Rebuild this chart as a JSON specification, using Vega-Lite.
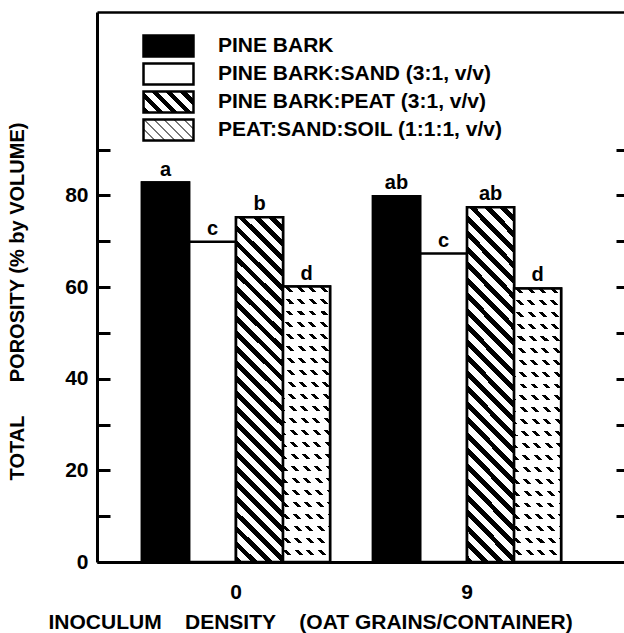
{
  "$schema": "https://vega.github.io/schema/vega-lite/v6.json",
  "width": 527,
  "height": 550,
  "autosize": {"type": "none"},
  "padding": {"left": 97, "top": 12, "right": 0, "bottom": 71},
  "background": "white",
  "config": {
    "view": {"stroke": null},
    "font": "Liberation Sans",
    "axis": {"grid": false, "labelFont": "Liberation Sans", "titleFont": "Liberation Sans", "labelColor": "black", "titleColor": "black", "domainColor": "black", "tickColor": "black"}
  },
  "data": {
    "values": [
      {"density": "0", "mix": "PINE BARK", "value": 82.8, "letter": "a"},
      {"density": "0", "mix": "PINE BARK:SAND (3:1, v/v)", "value": 69.9, "letter": "c"},
      {"density": "0", "mix": "PINE BARK:PEAT (3:1, v/v)", "value": 75.2, "letter": "b"},
      {"density": "0", "mix": "PEAT:SAND:SOIL (1:1:1, v/v)", "value": 60.1, "letter": "d"},
      {"density": "9", "mix": "PINE BARK", "value": 79.8, "letter": "ab"},
      {"density": "9", "mix": "PINE BARK:SAND (3:1, v/v)", "value": 67.3, "letter": "c"},
      {"density": "9", "mix": "PINE BARK:PEAT (3:1, v/v)", "value": 77.4, "letter": "ab"},
      {"density": "9", "mix": "PEAT:SAND:SOIL (1:1:1, v/v)", "value": 59.7, "letter": "d"}
    ]
  },
  "resolve": {"axis": {"x": "independent", "y": "independent"}},
  "layer": [
    {
      "mark": {"type": "bar", "strokeWidth": 2.5},
      "encoding": {
        "x": {"field": "density", "type": "nominal", "sort": ["0", "9"],
          "scale": {"paddingInner": 0.186, "paddingOuter": 0.2335, "align": 0.417},
          "axis": {"orient": "bottom", "labelAngle": 0, "ticks": false, "tickSize": 0, "domainWidth": 3, "labelFontSize": 21, "labelFontWeight": "bold", "labelPadding": 19, "labelDx": -8,
            "title": "INOCULUM\u00a0\u00a0\u00a0\u00a0DENSITY\u00a0\u00a0\u00a0\u00a0(OAT GRAINS/CONTAINER)", "titleFontSize": 21, "titleFontWeight": "bold", "titleAnchor": "start", "titleAlign": "left", "titleX": -49, "titlePadding": 9}},
        "xOffset": {"field": "mix", "type": "nominal", "scale": {"domain": ["PINE BARK", "PINE BARK:SAND (3:1, v/v)", "PINE BARK:PEAT (3:1, v/v)", "PEAT:SAND:SOIL (1:1:1, v/v)"], "paddingInner": 0, "paddingOuter": 0}},
        "y": {"field": "value", "type": "quantitative", "scale": {"domain": [0, 120], "nice": false},
          "axis": {"orient": "left", "values": [0, 10, 20, 30, 40, 50, 60, 70, 80, 90], "labelExpr": "datum.value % 20 == 0 ? datum.label : ''", "labelOverlap": false, "tickSize": -13, "tickWidth": 3, "domainWidth": 3, "labelFontSize": 21, "labelFontWeight": "bold", "labelPadding": 22,
            "title": "TOTAL\u00a0\u00a0\u00a0\u00a0\u00a0\u00a0POROSITY (% by VOLUME)", "titleFontSize": 20, "titleFontWeight": "bold", "titleAnchor": "middle", "titleY": 289, "titlePadding": 37}},
        "fill": {"field": "density", "type": "nominal", "legend": null, "scale": {"domain": ["0", "9"], "range": ["white", "white"]}},
        "stroke": {"field": "mix", "type": "nominal",
          "scale": {"domain": ["PINE BARK", "PINE BARK:SAND (3:1, v/v)", "PINE BARK:PEAT (3:1, v/v)", "PEAT:SAND:SOIL (1:1:1, v/v)"], "range": ["black", "black", "black", "black"]},
          "legend": {
            "title": null, "orient": "none", "legendX": 59.5, "legendY": 22, "padding": 0, "rowPadding": -9,
            "symbolType": "M-2.38,-1H2.38V1H-2.38Z", "symbolSize": 441, "symbolStrokeWidth": 2.5, "symbolOpacity": 1,
            "labelFont": "Liberation Sans", "labelFontSize": 21, "labelFontWeight": "bold", "labelColor": "black", "labelOffset": 37.5, "labelLimit": 0,
            "symbolFillColor": {"expr": "datum.value === 'PINE BARK' ? 'black' : datum.value === 'PINE BARK:SAND (3:1, v/v)' ? 'white' : datum.value === 'PINE BARK:PEAT (3:1, v/v)' ? {gradient: 'linear', x1: 0, y1: 1, x2: 1.207, y2: 0.493, stops: [{offset: 0, color: '#000'}, {offset: 0.09, color: '#000'}, {offset: 0.09, color: '#fff'}, {offset: 0.2, color: '#fff'}, {offset: 0.2, color: '#000'}, {offset: 0.29, color: '#000'}, {offset: 0.29, color: '#fff'}, {offset: 0.4, color: '#fff'}, {offset: 0.4, color: '#000'}, {offset: 0.49, color: '#000'}, {offset: 0.49, color: '#fff'}, {offset: 0.6, color: '#fff'}, {offset: 0.6, color: '#000'}, {offset: 0.69, color: '#000'}, {offset: 0.69, color: '#fff'}, {offset: 0.8, color: '#fff'}, {offset: 0.8, color: '#000'}, {offset: 0.89, color: '#000'}, {offset: 0.89, color: '#fff'}, {offset: 1, color: '#fff'}]} : {gradient: 'linear', x1: 0, y1: 1, x2: 1.207, y2: 0.493, stops: [{offset: 0, color: '#777'}, {offset: 0.03, color: '#777'}, {offset: 0.03, color: '#fff'}, {offset: 0.1429, color: '#fff'}, {offset: 0.1429, color: '#777'}, {offset: 0.1729, color: '#777'}, {offset: 0.1729, color: '#fff'}, {offset: 0.2857, color: '#fff'}, {offset: 0.2857, color: '#777'}, {offset: 0.3157, color: '#777'}, {offset: 0.3157, color: '#fff'}, {offset: 0.4286, color: '#fff'}, {offset: 0.4286, color: '#777'}, {offset: 0.4586, color: '#777'}, {offset: 0.4586, color: '#fff'}, {offset: 0.5714, color: '#fff'}, {offset: 0.5714, color: '#777'}, {offset: 0.6014, color: '#777'}, {offset: 0.6014, color: '#fff'}, {offset: 0.7143, color: '#fff'}, {offset: 0.7143, color: '#777'}, {offset: 0.7443, color: '#777'}, {offset: 0.7443, color: '#fff'}, {offset: 0.8571, color: '#fff'}, {offset: 0.8571, color: '#777'}, {offset: 0.8871, color: '#777'}, {offset: 0.8871, color: '#fff'}, {offset: 1, color: '#fff'}]}"}
          }}
      }
    },
    {
      "transform": [{"filter": "datum.mix === 'PINE BARK'"}],
      "mark": {"type": "bar", "fill": "black", "stroke": "black", "strokeWidth": 2.5},
      "encoding": {
        "x": {"field": "density", "type": "nominal", "sort": ["0", "9"], "axis": null},
        "xOffset": {"field": "mix", "type": "nominal"},
        "y": {"field": "value", "type": "quantitative", "axis": null}
      }
    },
    {
      "transform": [{"filter": "datum.mix === 'PINE BARK:PEAT (3:1, v/v)'"}],
      "mark": {"type": "bar", "stroke": "black", "strokeWidth": 2.5,
        "fill": {"gradient": "linear", "x1": 0, "y1": 1, "x2": 0.1505, "y2": -0.1147, "stops": [
          {"offset": 0, "color": "#000"}, {"offset": 0.0173, "color": "#000"}, {"offset": 0.0173, "color": "#fff"}, {"offset": 0.0385, "color": "#fff"},
          {"offset": 0.0385, "color": "#000"}, {"offset": 0.0558, "color": "#000"}, {"offset": 0.0558, "color": "#fff"}, {"offset": 0.0769, "color": "#fff"},
          {"offset": 0.0769, "color": "#000"}, {"offset": 0.0942, "color": "#000"}, {"offset": 0.0942, "color": "#fff"}, {"offset": 0.1154, "color": "#fff"},
          {"offset": 0.1154, "color": "#000"}, {"offset": 0.1327, "color": "#000"}, {"offset": 0.1327, "color": "#fff"}, {"offset": 0.1538, "color": "#fff"},
          {"offset": 0.1538, "color": "#000"}, {"offset": 0.1712, "color": "#000"}, {"offset": 0.1712, "color": "#fff"}, {"offset": 0.1923, "color": "#fff"},
          {"offset": 0.1923, "color": "#000"}, {"offset": 0.2096, "color": "#000"}, {"offset": 0.2096, "color": "#fff"}, {"offset": 0.2308, "color": "#fff"},
          {"offset": 0.2308, "color": "#000"}, {"offset": 0.2481, "color": "#000"}, {"offset": 0.2481, "color": "#fff"}, {"offset": 0.2692, "color": "#fff"},
          {"offset": 0.2692, "color": "#000"}, {"offset": 0.2865, "color": "#000"}, {"offset": 0.2865, "color": "#fff"}, {"offset": 0.3077, "color": "#fff"},
          {"offset": 0.3077, "color": "#000"}, {"offset": 0.325, "color": "#000"}, {"offset": 0.325, "color": "#fff"}, {"offset": 0.3462, "color": "#fff"},
          {"offset": 0.3462, "color": "#000"}, {"offset": 0.3635, "color": "#000"}, {"offset": 0.3635, "color": "#fff"}, {"offset": 0.3846, "color": "#fff"},
          {"offset": 0.3846, "color": "#000"}, {"offset": 0.4019, "color": "#000"}, {"offset": 0.4019, "color": "#fff"}, {"offset": 0.4231, "color": "#fff"},
          {"offset": 0.4231, "color": "#000"}, {"offset": 0.4404, "color": "#000"}, {"offset": 0.4404, "color": "#fff"}, {"offset": 0.4615, "color": "#fff"},
          {"offset": 0.4615, "color": "#000"}, {"offset": 0.4788, "color": "#000"}, {"offset": 0.4788, "color": "#fff"}, {"offset": 0.5, "color": "#fff"},
          {"offset": 0.5, "color": "#000"}, {"offset": 0.5173, "color": "#000"}, {"offset": 0.5173, "color": "#fff"}, {"offset": 0.5385, "color": "#fff"},
          {"offset": 0.5385, "color": "#000"}, {"offset": 0.5558, "color": "#000"}, {"offset": 0.5558, "color": "#fff"}, {"offset": 0.5769, "color": "#fff"},
          {"offset": 0.5769, "color": "#000"}, {"offset": 0.5942, "color": "#000"}, {"offset": 0.5942, "color": "#fff"}, {"offset": 0.6154, "color": "#fff"},
          {"offset": 0.6154, "color": "#000"}, {"offset": 0.6327, "color": "#000"}, {"offset": 0.6327, "color": "#fff"}, {"offset": 0.6538, "color": "#fff"},
          {"offset": 0.6538, "color": "#000"}, {"offset": 0.6712, "color": "#000"}, {"offset": 0.6712, "color": "#fff"}, {"offset": 0.6923, "color": "#fff"},
          {"offset": 0.6923, "color": "#000"}, {"offset": 0.7096, "color": "#000"}, {"offset": 0.7096, "color": "#fff"}, {"offset": 0.7308, "color": "#fff"},
          {"offset": 0.7308, "color": "#000"}, {"offset": 0.7481, "color": "#000"}, {"offset": 0.7481, "color": "#fff"}, {"offset": 0.7692, "color": "#fff"},
          {"offset": 0.7692, "color": "#000"}, {"offset": 0.7865, "color": "#000"}, {"offset": 0.7865, "color": "#fff"}, {"offset": 0.8077, "color": "#fff"},
          {"offset": 0.8077, "color": "#000"}, {"offset": 0.825, "color": "#000"}, {"offset": 0.825, "color": "#fff"}, {"offset": 0.8462, "color": "#fff"},
          {"offset": 0.8462, "color": "#000"}, {"offset": 0.8635, "color": "#000"}, {"offset": 0.8635, "color": "#fff"}, {"offset": 0.8846, "color": "#fff"},
          {"offset": 0.8846, "color": "#000"}, {"offset": 0.9019, "color": "#000"}, {"offset": 0.9019, "color": "#fff"}, {"offset": 0.9231, "color": "#fff"},
          {"offset": 0.9231, "color": "#000"}, {"offset": 0.9404, "color": "#000"}, {"offset": 0.9404, "color": "#fff"}, {"offset": 0.9615, "color": "#fff"},
          {"offset": 0.9615, "color": "#000"}, {"offset": 0.9788, "color": "#000"}, {"offset": 0.9788, "color": "#fff"}, {"offset": 1, "color": "#fff"}]}},
      "encoding": {
        "x": {"field": "density", "type": "nominal", "sort": ["0", "9"], "axis": null},
        "xOffset": {"field": "mix", "type": "nominal"},
        "y": {"field": "value", "type": "quantitative", "axis": null}
      }
    },
    {
      "transform": [{"filter": "datum.mix === 'PEAT:SAND:SOIL (1:1:1, v/v)'"}],
      "mark": {"type": "bar", "strokeWidth": 0,
        "fill": {"gradient": "linear", "x1": 0, "y1": 1, "x2": 0.1946, "y2": -0.1378, "stops": [
          {"offset": 0, "color": "#000"}, {"offset": 0.0125, "color": "#000"}, {"offset": 0.0125, "color": "#fff"}, {"offset": 0.0357, "color": "#fff"},
          {"offset": 0.0357, "color": "#000"}, {"offset": 0.0482, "color": "#000"}, {"offset": 0.0482, "color": "#fff"}, {"offset": 0.0714, "color": "#fff"},
          {"offset": 0.0714, "color": "#000"}, {"offset": 0.0839, "color": "#000"}, {"offset": 0.0839, "color": "#fff"}, {"offset": 0.1071, "color": "#fff"},
          {"offset": 0.1071, "color": "#000"}, {"offset": 0.1196, "color": "#000"}, {"offset": 0.1196, "color": "#fff"}, {"offset": 0.1429, "color": "#fff"},
          {"offset": 0.1429, "color": "#000"}, {"offset": 0.1554, "color": "#000"}, {"offset": 0.1554, "color": "#fff"}, {"offset": 0.1786, "color": "#fff"},
          {"offset": 0.1786, "color": "#000"}, {"offset": 0.1911, "color": "#000"}, {"offset": 0.1911, "color": "#fff"}, {"offset": 0.2143, "color": "#fff"},
          {"offset": 0.2143, "color": "#000"}, {"offset": 0.2268, "color": "#000"}, {"offset": 0.2268, "color": "#fff"}, {"offset": 0.25, "color": "#fff"},
          {"offset": 0.25, "color": "#000"}, {"offset": 0.2625, "color": "#000"}, {"offset": 0.2625, "color": "#fff"}, {"offset": 0.2857, "color": "#fff"},
          {"offset": 0.2857, "color": "#000"}, {"offset": 0.2982, "color": "#000"}, {"offset": 0.2982, "color": "#fff"}, {"offset": 0.3214, "color": "#fff"},
          {"offset": 0.3214, "color": "#000"}, {"offset": 0.3339, "color": "#000"}, {"offset": 0.3339, "color": "#fff"}, {"offset": 0.3571, "color": "#fff"},
          {"offset": 0.3571, "color": "#000"}, {"offset": 0.3696, "color": "#000"}, {"offset": 0.3696, "color": "#fff"}, {"offset": 0.3929, "color": "#fff"},
          {"offset": 0.3929, "color": "#000"}, {"offset": 0.4054, "color": "#000"}, {"offset": 0.4054, "color": "#fff"}, {"offset": 0.4286, "color": "#fff"},
          {"offset": 0.4286, "color": "#000"}, {"offset": 0.4411, "color": "#000"}, {"offset": 0.4411, "color": "#fff"}, {"offset": 0.4643, "color": "#fff"},
          {"offset": 0.4643, "color": "#000"}, {"offset": 0.4768, "color": "#000"}, {"offset": 0.4768, "color": "#fff"}, {"offset": 0.5, "color": "#fff"},
          {"offset": 0.5, "color": "#000"}, {"offset": 0.5125, "color": "#000"}, {"offset": 0.5125, "color": "#fff"}, {"offset": 0.5357, "color": "#fff"},
          {"offset": 0.5357, "color": "#000"}, {"offset": 0.5482, "color": "#000"}, {"offset": 0.5482, "color": "#fff"}, {"offset": 0.5714, "color": "#fff"},
          {"offset": 0.5714, "color": "#000"}, {"offset": 0.5839, "color": "#000"}, {"offset": 0.5839, "color": "#fff"}, {"offset": 0.6071, "color": "#fff"},
          {"offset": 0.6071, "color": "#000"}, {"offset": 0.6196, "color": "#000"}, {"offset": 0.6196, "color": "#fff"}, {"offset": 0.6429, "color": "#fff"},
          {"offset": 0.6429, "color": "#000"}, {"offset": 0.6554, "color": "#000"}, {"offset": 0.6554, "color": "#fff"}, {"offset": 0.6786, "color": "#fff"},
          {"offset": 0.6786, "color": "#000"}, {"offset": 0.6911, "color": "#000"}, {"offset": 0.6911, "color": "#fff"}, {"offset": 0.7143, "color": "#fff"},
          {"offset": 0.7143, "color": "#000"}, {"offset": 0.7268, "color": "#000"}, {"offset": 0.7268, "color": "#fff"}, {"offset": 0.75, "color": "#fff"},
          {"offset": 0.75, "color": "#000"}, {"offset": 0.7625, "color": "#000"}, {"offset": 0.7625, "color": "#fff"}, {"offset": 0.7857, "color": "#fff"},
          {"offset": 0.7857, "color": "#000"}, {"offset": 0.7982, "color": "#000"}, {"offset": 0.7982, "color": "#fff"}, {"offset": 0.8214, "color": "#fff"},
          {"offset": 0.8214, "color": "#000"}, {"offset": 0.8339, "color": "#000"}, {"offset": 0.8339, "color": "#fff"}, {"offset": 0.8571, "color": "#fff"},
          {"offset": 0.8571, "color": "#000"}, {"offset": 0.8696, "color": "#000"}, {"offset": 0.8696, "color": "#fff"}, {"offset": 0.8929, "color": "#fff"},
          {"offset": 0.8929, "color": "#000"}, {"offset": 0.9054, "color": "#000"}, {"offset": 0.9054, "color": "#fff"}, {"offset": 0.9286, "color": "#fff"},
          {"offset": 0.9286, "color": "#000"}, {"offset": 0.9411, "color": "#000"}, {"offset": 0.9411, "color": "#fff"}, {"offset": 0.9643, "color": "#fff"},
          {"offset": 0.9643, "color": "#000"}, {"offset": 0.9768, "color": "#000"}, {"offset": 0.9768, "color": "#fff"}, {"offset": 1, "color": "#fff"}]}},
      "encoding": {
        "x": {"field": "density", "type": "nominal", "sort": ["0", "9"], "axis": null},
        "xOffset": {"field": "mix", "type": "nominal"},
        "y": {"field": "value", "type": "quantitative", "axis": null}
      }
    },
    {
      "transform": [{"filter": "datum.mix === 'PEAT:SAND:SOIL (1:1:1, v/v)'"}],
      "mark": {"type": "bar", "stroke": "black", "strokeWidth": 2.5,
        "fill": {"gradient": "linear", "x1": 0, "y1": 0, "x2": 0, "y2": 1, "stops": [
          {"offset": 0, "color": "rgba(255,255,255,0)"}, {"offset": 0.0181, "color": "rgba(255,255,255,0)"}, {"offset": 0.0181, "color": "#fff"}, {"offset": 0.0435, "color": "#fff"},
          {"offset": 0.0435, "color": "rgba(255,255,255,0)"}, {"offset": 0.0616, "color": "rgba(255,255,255,0)"}, {"offset": 0.0616, "color": "#fff"}, {"offset": 0.087, "color": "#fff"},
          {"offset": 0.087, "color": "rgba(255,255,255,0)"}, {"offset": 0.1051, "color": "rgba(255,255,255,0)"}, {"offset": 0.1051, "color": "#fff"}, {"offset": 0.1304, "color": "#fff"},
          {"offset": 0.1304, "color": "rgba(255,255,255,0)"}, {"offset": 0.1485, "color": "rgba(255,255,255,0)"}, {"offset": 0.1485, "color": "#fff"}, {"offset": 0.1739, "color": "#fff"},
          {"offset": 0.1739, "color": "rgba(255,255,255,0)"}, {"offset": 0.192, "color": "rgba(255,255,255,0)"}, {"offset": 0.192, "color": "#fff"}, {"offset": 0.2174, "color": "#fff"},
          {"offset": 0.2174, "color": "rgba(255,255,255,0)"}, {"offset": 0.2355, "color": "rgba(255,255,255,0)"}, {"offset": 0.2355, "color": "#fff"}, {"offset": 0.2609, "color": "#fff"},
          {"offset": 0.2609, "color": "rgba(255,255,255,0)"}, {"offset": 0.279, "color": "rgba(255,255,255,0)"}, {"offset": 0.279, "color": "#fff"}, {"offset": 0.3043, "color": "#fff"},
          {"offset": 0.3043, "color": "rgba(255,255,255,0)"}, {"offset": 0.3224, "color": "rgba(255,255,255,0)"}, {"offset": 0.3224, "color": "#fff"}, {"offset": 0.3478, "color": "#fff"},
          {"offset": 0.3478, "color": "rgba(255,255,255,0)"}, {"offset": 0.3659, "color": "rgba(255,255,255,0)"}, {"offset": 0.3659, "color": "#fff"}, {"offset": 0.3913, "color": "#fff"},
          {"offset": 0.3913, "color": "rgba(255,255,255,0)"}, {"offset": 0.4094, "color": "rgba(255,255,255,0)"}, {"offset": 0.4094, "color": "#fff"}, {"offset": 0.4348, "color": "#fff"},
          {"offset": 0.4348, "color": "rgba(255,255,255,0)"}, {"offset": 0.4529, "color": "rgba(255,255,255,0)"}, {"offset": 0.4529, "color": "#fff"}, {"offset": 0.4783, "color": "#fff"},
          {"offset": 0.4783, "color": "rgba(255,255,255,0)"}, {"offset": 0.4964, "color": "rgba(255,255,255,0)"}, {"offset": 0.4964, "color": "#fff"}, {"offset": 0.5217, "color": "#fff"},
          {"offset": 0.5217, "color": "rgba(255,255,255,0)"}, {"offset": 0.5398, "color": "rgba(255,255,255,0)"}, {"offset": 0.5398, "color": "#fff"}, {"offset": 0.5652, "color": "#fff"},
          {"offset": 0.5652, "color": "rgba(255,255,255,0)"}, {"offset": 0.5833, "color": "rgba(255,255,255,0)"}, {"offset": 0.5833, "color": "#fff"}, {"offset": 0.6087, "color": "#fff"},
          {"offset": 0.6087, "color": "rgba(255,255,255,0)"}, {"offset": 0.6268, "color": "rgba(255,255,255,0)"}, {"offset": 0.6268, "color": "#fff"}, {"offset": 0.6522, "color": "#fff"},
          {"offset": 0.6522, "color": "rgba(255,255,255,0)"}, {"offset": 0.6703, "color": "rgba(255,255,255,0)"}, {"offset": 0.6703, "color": "#fff"}, {"offset": 0.6957, "color": "#fff"},
          {"offset": 0.6957, "color": "rgba(255,255,255,0)"}, {"offset": 0.7138, "color": "rgba(255,255,255,0)"}, {"offset": 0.7138, "color": "#fff"}, {"offset": 0.7391, "color": "#fff"},
          {"offset": 0.7391, "color": "rgba(255,255,255,0)"}, {"offset": 0.7572, "color": "rgba(255,255,255,0)"}, {"offset": 0.7572, "color": "#fff"}, {"offset": 0.7826, "color": "#fff"},
          {"offset": 0.7826, "color": "rgba(255,255,255,0)"}, {"offset": 0.8007, "color": "rgba(255,255,255,0)"}, {"offset": 0.8007, "color": "#fff"}, {"offset": 0.8261, "color": "#fff"},
          {"offset": 0.8261, "color": "rgba(255,255,255,0)"}, {"offset": 0.8442, "color": "rgba(255,255,255,0)"}, {"offset": 0.8442, "color": "#fff"}, {"offset": 0.8696, "color": "#fff"},
          {"offset": 0.8696, "color": "rgba(255,255,255,0)"}, {"offset": 0.8877, "color": "rgba(255,255,255,0)"}, {"offset": 0.8877, "color": "#fff"}, {"offset": 0.913, "color": "#fff"},
          {"offset": 0.913, "color": "rgba(255,255,255,0)"}, {"offset": 0.9311, "color": "rgba(255,255,255,0)"}, {"offset": 0.9311, "color": "#fff"}, {"offset": 0.9565, "color": "#fff"},
          {"offset": 0.9565, "color": "rgba(255,255,255,0)"}, {"offset": 0.9746, "color": "rgba(255,255,255,0)"}, {"offset": 0.9746, "color": "#fff"}, {"offset": 1, "color": "#fff"}]}},
      "encoding": {
        "x": {"field": "density", "type": "nominal", "sort": ["0", "9"], "axis": null},
        "xOffset": {"field": "mix", "type": "nominal"},
        "y": {"field": "value", "type": "quantitative", "axis": null}
      }
    },
    {
      "mark": {"type": "text", "font": "Liberation Sans", "fontWeight": "bold", "fontSize": 20, "baseline": "alphabetic", "dy": -7, "color": "black"},
      "encoding": {
        "x": {"field": "density", "type": "nominal", "sort": ["0", "9"],
          "axis": {"orient": "top", "labels": false, "ticks": false, "title": null, "domainWidth": 2.5}},
        "xOffset": {"field": "mix", "type": "nominal"},
        "y": {"field": "value", "type": "quantitative",
          "axis": {"orient": "right", "values": [0, 10, 20, 30, 40, 50, 60, 70, 80, 90], "labels": false, "domain": false, "tickSize": -8, "tickWidth": 3, "title": null}},
        "text": {"field": "letter"}
      }
    }
  ]
}
